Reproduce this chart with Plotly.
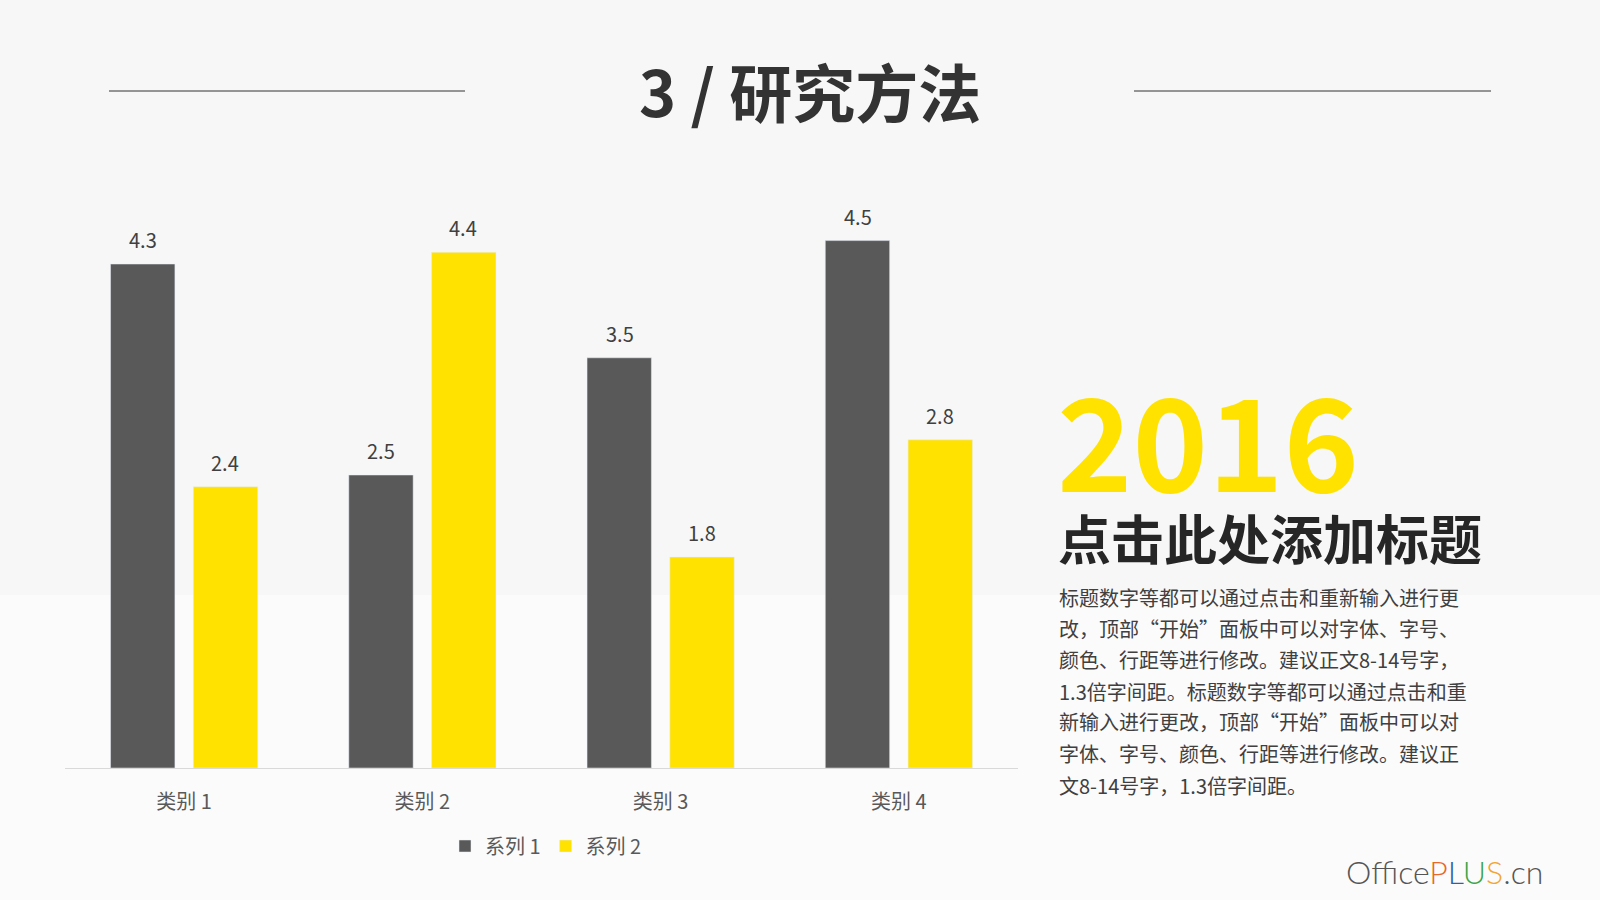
import plotly.graph_objects as go

categories = ["类别 1", "类别 2", "类别 3", "类别 4"]
series1_name = "系列 1"
series2_name = "系列 2"
series1 = [4.3, 2.5, 3.5, 4.5]
series2 = [2.4, 4.4, 1.8, 2.8]

title_text = "3 / 研究方法"
year_text = "2016"
heading_text = "点击此处添加标题"
body_lines = [
    "标题数字等都可以通过点击和重新输入进行更",
    "改，顶部“开始”面板中可以对字体、字号、",
    "颜色、行距等进行修改。建议正文8-14号字，",
    "1.3倍字间距。标题数字等都可以通过点击和重",
    "新输入进行更改，顶部“开始”面板中可以对",
    "字体、字号、颜色、行距等进行修改。建议正",
    "文8-14号字，1.3倍字间距。",
]

GREY = "#595959"
YELLOW = "#FFE200"
FONT = "Noto Sans CJK SC"
W, H = 1600, 900

fig = go.Figure()
fig.add_trace(go.Bar(x=categories, y=series1, name=series1_name, marker_color=GREY))
fig.add_trace(go.Bar(x=categories, y=series2, name=series2_name, marker_color=YELLOW))

def px(x):
    return x / W

def py(y):
    return 1 - y / H

annotations = []
# value labels above bars, placed via data coordinates
for vals, xs in ((series1, -41), (series2, 41)):
    for c, v in zip(categories, vals):
        annotations.append(dict(text=f"{v:.1f}", x=c, y=v, xref="x", yref="y", xshift=xs, yshift=8,
                                showarrow=False, yanchor="bottom", xanchor="center",
                                font=dict(size=20, color="#404040", family=FONT)))

annotations += [
    dict(text=f"<b>{title_text}</b>", x=px(810), y=py(89), xref="paper", yref="paper",
         showarrow=False, font=dict(size=63, color="#333333", family=FONT), xanchor="center", yanchor="middle"),
    dict(text=f"<b>{year_text}</b>", x=px(1055), y=py(437), xref="paper", yref="paper",
         showarrow=False, font=dict(size=128, color=YELLOW, family=FONT), xanchor="left", yanchor="middle"),
    dict(text=f"<b>{heading_text}</b>", x=px(1056), y=py(537), xref="paper", yref="paper",
         showarrow=False, font=dict(size=53, color="#262626", family=FONT), xanchor="left", yanchor="middle"),
]
line_ys = [597, 628.5, 659.5, 691, 721.5, 753, 785]
for t, yy in zip(body_lines, line_ys):
    annotations.append(dict(text=t, x=px(1057), y=py(yy), xref="paper", yref="paper", showarrow=False,
                            font=dict(size=20, color="#404040", family=FONT), xanchor="left", yanchor="middle"))
logo = ("<span style='color:#555555'>Office</span>"
        "<span style='color:#E8672A'>P</span><span style='color:#2E5FA8'>L</span>"
        "<span style='color:#3BA44A'>U</span><span style='color:#F2A531'>S</span>"
        "<span style='color:#555555'>.cn</span>")
annotations.append(dict(text=logo, x=px(1545), y=py(871), xref="paper", yref="paper", showarrow=False,
                        font=dict(size=32, family="Lato", weight=300), xanchor="right", yanchor="middle"))

shapes = [
    dict(type="rect", xref="paper", yref="paper", x0=0, x1=1, y0=0, y1=py(595),
         fillcolor="#FCFBFB", line=dict(width=0), layer="below"),
    dict(type="line", xref="paper", yref="paper", x0=px(109), x1=px(465), y0=py(91), y1=py(91),
         line=dict(color="#333333", width=1)),
    dict(type="line", xref="paper", yref="paper", x0=px(1134), x1=px(1491), y0=py(91), y1=py(91),
         line=dict(color="#333333", width=1)),
]

fig.update_layout(
    width=W, height=H, margin=dict(l=0, r=0, t=0, b=0),
    paper_bgcolor="#F7F7F7", plot_bgcolor="rgba(0,0,0,0)",
    barmode="group", bargap=0.305, bargroupgap=0.2225,
    font=dict(family=FONT, color=GREY),
    xaxis=dict(domain=[px(65), px(1018)], showline=True, linecolor="#D9D9D9", linewidth=1,
               showgrid=False, ticks="", tickfont=dict(size=20, color=GREY, family=FONT),
               ticklabelstandoff=16, zeroline=False),
    yaxis=dict(domain=[py(768), py(182)], range=[0, 5], visible=False, showgrid=False, zeroline=False),
    legend=dict(orientation="h", x=px(546), xanchor="center", y=py(846), yanchor="middle",
                font=dict(size=20, color=GREY, family=FONT), bgcolor="rgba(0,0,0,0)",
                itemwidth=30, traceorder="normal"),
    showlegend=True,
    annotations=annotations,
    shapes=shapes,
)

fig.write_html("out.html")
